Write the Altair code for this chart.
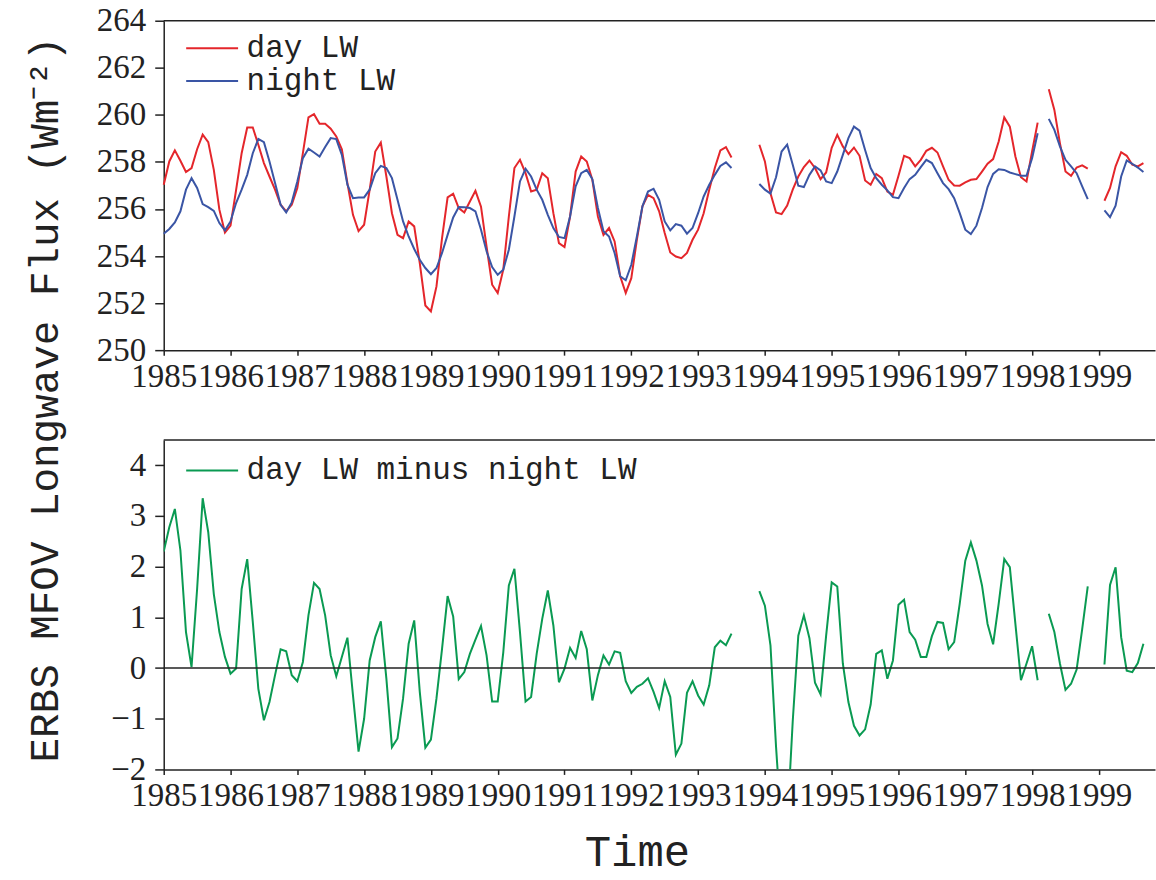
import altair as alt
import pandas as pd

START_YEAR = 1985
YEARS = list(range(1985, 2000))
TOP_TICKS = [250, 252, 254, 256, 258, 260, 262, 264]
BOTTOM_TICKS = [-2, -1, 0, 1, 2, 3, 4]

day_lw = [
    257.03, 258.02, 258.49, 258.05, 257.57, 257.74, 258.54, 259.16, 258.84, 257.66, 255.97, 255.00,
    255.29, 256.80, 258.37, 259.46, 259.46, 258.73, 257.95, 257.38, 256.82, 256.18, 255.90, 256.18,
    256.89, 258.37, 259.89, 260.03, 259.62, 259.62, 259.41, 259.08, 258.54, 257.10, 255.75, 255.06,
    255.33, 256.82, 258.44, 258.82, 257.38, 255.82, 254.90, 254.76, 255.47, 255.26, 253.70, 251.90,
    251.65, 252.71, 254.76, 256.49, 256.65, 256.04, 255.85, 256.32, 256.77, 256.10, 254.40, 252.78,
    252.43, 253.42, 255.68, 257.74, 258.09, 257.52, 256.74, 256.82, 257.52, 257.31, 255.82, 254.55,
    254.38, 255.68, 257.59, 258.23, 258.02, 257.24, 255.68, 254.90, 255.19, 254.62, 253.14, 252.43,
    253.06, 254.69, 256.11, 256.60, 256.46, 255.90, 254.98, 254.15, 253.98, 253.91, 254.13, 254.69,
    255.12, 255.82, 256.82, 257.74, 258.49, 258.63, 258.19, None, None, None, None, 258.73,
    258.02, 256.67, 255.85, 255.78, 256.14, 256.82, 257.38, 257.78, 258.06, 257.74, 257.27, 257.55,
    258.60, 259.15, 258.66, 258.33, 258.61, 258.26, 257.21, 257.03, 257.49, 257.31, 256.74, 256.60,
    257.41, 258.26, 258.16, 257.81, 258.09, 258.47, 258.60, 258.40, 257.81, 257.24, 257.00, 256.99,
    257.13, 257.24, 257.27, 257.59, 257.92, 258.12, 258.87, 259.89, 259.50, 258.23, 257.35, 257.17,
    258.44, 259.67, None, 261.09, 260.21, 258.80, 257.59, 257.41, 257.76, 257.85, 257.71, None,
    None, 256.35, 256.89, 257.81, 258.41, 258.26, 257.88, 257.81, 257.95,
]

night_lw = [
    254.95, 255.15, 255.43, 255.90, 256.82, 257.31, 256.89, 256.21, 256.08, 255.92, 255.40, 255.09,
    255.47, 256.25, 256.82, 257.45, 258.37, 258.98, 258.84, 258.02, 257.10, 256.18, 255.85, 256.28,
    257.17, 258.16, 258.56, 258.40, 258.23, 258.63, 259.01, 258.97, 258.30, 257.03, 256.46, 256.49,
    256.49, 256.82, 257.52, 257.83, 257.74, 257.31, 256.39, 255.47, 254.83, 254.30, 253.84, 253.49,
    253.23, 253.49, 254.13, 254.90, 255.64, 256.08, 256.07, 256.04, 255.90, 255.12, 254.20, 253.53,
    253.20, 253.42, 254.27, 255.68, 257.17, 257.71, 257.38, 256.82, 256.39, 255.75, 255.19, 254.81,
    254.76, 255.68, 256.96, 257.52, 257.66, 257.27, 256.04, 255.05, 254.83, 254.13, 253.14, 252.97,
    253.63, 254.83, 256.11, 256.74, 256.86, 256.39, 255.47, 255.09, 255.36, 255.29, 254.95, 255.19,
    255.82, 256.53, 257.03, 257.45, 257.83, 257.98, 257.74, None, None, None, None, 257.06,
    256.82, 256.65, 257.35, 258.44, 258.73, 257.88, 256.99, 256.93, 257.45, 257.81, 257.64, 257.17,
    257.10, 257.59, 258.30, 259.01, 259.50, 259.33, 258.51, 257.74, 257.31, 257.03, 256.79, 256.50,
    256.46, 256.89, 257.27, 257.45, 257.78, 258.09, 257.95, 257.52, 257.10, 256.84, 256.46, 255.82,
    255.12, 254.93, 255.29, 256.04, 256.93, 257.49, 257.69, 257.66, 257.55, 257.48, 257.41, 257.41,
    258.16, 259.22, None, 259.83, 259.36, 258.66, 258.09, 257.81, 257.52, 256.96, 256.42, None,
    None, 255.94, 255.65, 256.14, 257.38, 258.06, 257.92, 257.76, 257.57,
]

diff_lw = [
    2.30, 2.78, 3.14, 2.32, 0.71, 0.02, 1.56, 3.35, 2.68, 1.46, 0.71, 0.22,
    -0.11, -0.01, 1.56, 2.15, 0.91, -0.41, -1.03, -0.67, -0.14, 0.37, 0.33, -0.14,
    -0.26, 0.12, 1.04, 1.68, 1.56, 1.04, 0.25, -0.16, 0.22, 0.60, -0.54, -1.65,
    -1.00, 0.15, 0.61, 0.92, -0.21, -1.56, -1.39, -0.60, 0.48, 0.94, -0.47, -1.57,
    -1.41, -0.60, 0.38, 1.42, 1.02, -0.22, -0.08, 0.28, 0.56, 0.83, 0.25, -0.66,
    -0.66, 0.31, 1.63, 1.96, 0.71, -0.66, -0.57, 0.28, 0.97, 1.53, 0.84, -0.28,
    -0.01, 0.40, 0.20, 0.73, 0.37, -0.64, -0.14, 0.25, 0.07, 0.33, 0.30, -0.26,
    -0.49, -0.37, -0.31, -0.20, -0.47, -0.79, -0.26, -0.57, -1.71, -1.49, -0.49, -0.26,
    -0.54, -0.72, -0.34, 0.41, 0.54, 0.45, 0.68, None, None, None, None, 1.52,
    1.23, 0.45, -1.55, -3.20, -3.10, -1.05, 0.64, 1.04, 0.59, -0.29, -0.52, 0.64,
    1.69, 1.61, 0.09, -0.67, -1.14, -1.33, -1.21, -0.72, 0.28, 0.35, -0.21, 0.15,
    1.25, 1.35, 0.71, 0.56, 0.22, 0.22, 0.63, 0.91, 0.89, 0.37, 0.51, 1.27,
    2.12, 2.48, 2.12, 1.63, 0.87, 0.47, 1.27, 2.15, 1.99, 0.87, -0.24, 0.09,
    0.43, -0.24, None, 1.07, 0.71, 0.09, -0.43, -0.31, -0.03, 0.77, 1.61, None,
    None, 0.07, 1.64, 1.99, 0.61, -0.05, -0.08, 0.10, 0.48,
]

SERIES_TOP = ["day LW", "night LW"]
SERIES_BOTTOM = ["day LW minus night LW"]
RED, BLUE, GREEN = "#E4262B", "#3A55A5", "#0A9A52"
INK = "#222222"
Y_TITLE = "ERBS MFOV Longwave Flux (Wm\u207b\u00b2)"


def frame(values, name):
    rows, seg = [], 0
    for i, v in enumerate(values):
        if v is None:
            seg += 1
            continue
        rows.append({"t": START_YEAR + i / 12.0, "value": v,
                     "series": name, "seg": f"{name}-{seg}"})
    return rows


top_df = pd.DataFrame(frame(day_lw, SERIES_TOP[0]) + frame(night_lw, SERIES_TOP[1]))
bot_df = pd.DataFrame(frame(diff_lw, SERIES_BOTTOM[0]))

X_DOMAIN = [1985, 1999.84]
W, H = 993, 330


def x_enc(title=None):
    kw = dict(values=YEARS, format="d", labelFont="Liberation Serif", labelFontSize=33,
              labelColor=INK, tickSize=5, tickWidth=1.5, tickColor=INK,
              domainColor=INK, domainWidth=1.5, labelPadding=5,
              labelOverlap=False, labelFlush=False, grid=False)
    if title:
        kw.update(title=title, titleFont="Liberation Mono", titleFontSize=44,
                  titleFontWeight="normal", titleColor=INK, titleX=474, titleY=96,
                  titleAlign="center", titleBaseline="alphabetic")
    else:
        kw.update(title=None)
    return alt.X("t:Q", scale=alt.Scale(domain=X_DOMAIN, nice=False, zero=False),
                 axis=alt.Axis(**kw))


def y_axis(values, title=None):
    kw = dict(values=values, labelFont="Liberation Serif", labelFontSize=33,
              labelColor=INK, tickSize=9, tickWidth=1.5, tickColor=INK,
              domainColor=INK, domainWidth=1.5, labelPadding=9,
              labelOverlap=False, labelFlush=False, grid=False)
    if title:
        kw.update(title=title, titleFont="Liberation Mono", titleFontSize=41,
                  titleFontWeight="normal", titleColor=INK, titleAngle=270,
                  titleX=-118, titleY=379, titleAlign="center", titleBaseline="middle",
                  titleLimit=0)
    else:
        kw.update(title=None)
    return alt.Axis(**kw)


def legend(x, y):
    return alt.Legend(title=None, orient="none", legendX=x, legendY=y,
                      symbolType="M-2.6,0H2.6", symbolSize=400, symbolStrokeWidth=2,
                      labelFont="Liberation Mono", labelFontSize=31, labelColor=INK,
                      labelOffset=19, labelLimit=0, rowPadding=1, padding=0)


top_scale = alt.Scale(domain=[250, 264], nice=False, zero=False)
bot_scale = alt.Scale(domain=[-2, 4.5], nice=False, zero=False)

top_lines = alt.Chart(top_df).mark_line(strokeWidth=2).encode(
    x=x_enc(),
    y=alt.Y("value:Q", scale=top_scale, axis=y_axis(TOP_TICKS, Y_TITLE)),
    color=alt.Color("series:N", scale=alt.Scale(domain=SERIES_TOP, range=[RED, BLUE]),
                    legend=legend(33, 12)),
    detail="seg:N",
)
top_frame = alt.Chart(pd.DataFrame({"value": [264]})).mark_rule(
    color=INK, strokeWidth=1.5).encode(
    y=alt.Y("value:Q", scale=top_scale, axis=y_axis(TOP_TICKS, Y_TITLE)))
top = alt.layer(top_lines, top_frame).properties(width=W, height=H)

bot_lines = alt.Chart(bot_df).mark_line(strokeWidth=2, clip=True).encode(
    x=x_enc("Time"),
    y=alt.Y("value:Q", scale=bot_scale, axis=y_axis(BOTTOM_TICKS)),
    color=alt.Color("series:N", scale=alt.Scale(domain=SERIES_BOTTOM, range=[GREEN]),
                    legend=legend(33, 15)),
    detail="seg:N",
)
bot_rules = alt.Chart(pd.DataFrame({"value": [4.5, 0]})).mark_rule(
    color=INK, strokeWidth=1.5).encode(
    y=alt.Y("value:Q", scale=bot_scale, axis=y_axis(BOTTOM_TICKS)))
bottom = alt.layer(bot_lines, bot_rules).properties(width=W, height=H)

chart = alt.vconcat(top, bottom, spacing=90, bounds="flush").resolve_scale(
    color="independent"
).properties(
    padding={"left": 24, "top": 4, "right": 0, "bottom": 0},
    background="white",
).configure_view(stroke=None)

chart.save("out.html", embed_options={"renderer": "svg", "actions": False})
